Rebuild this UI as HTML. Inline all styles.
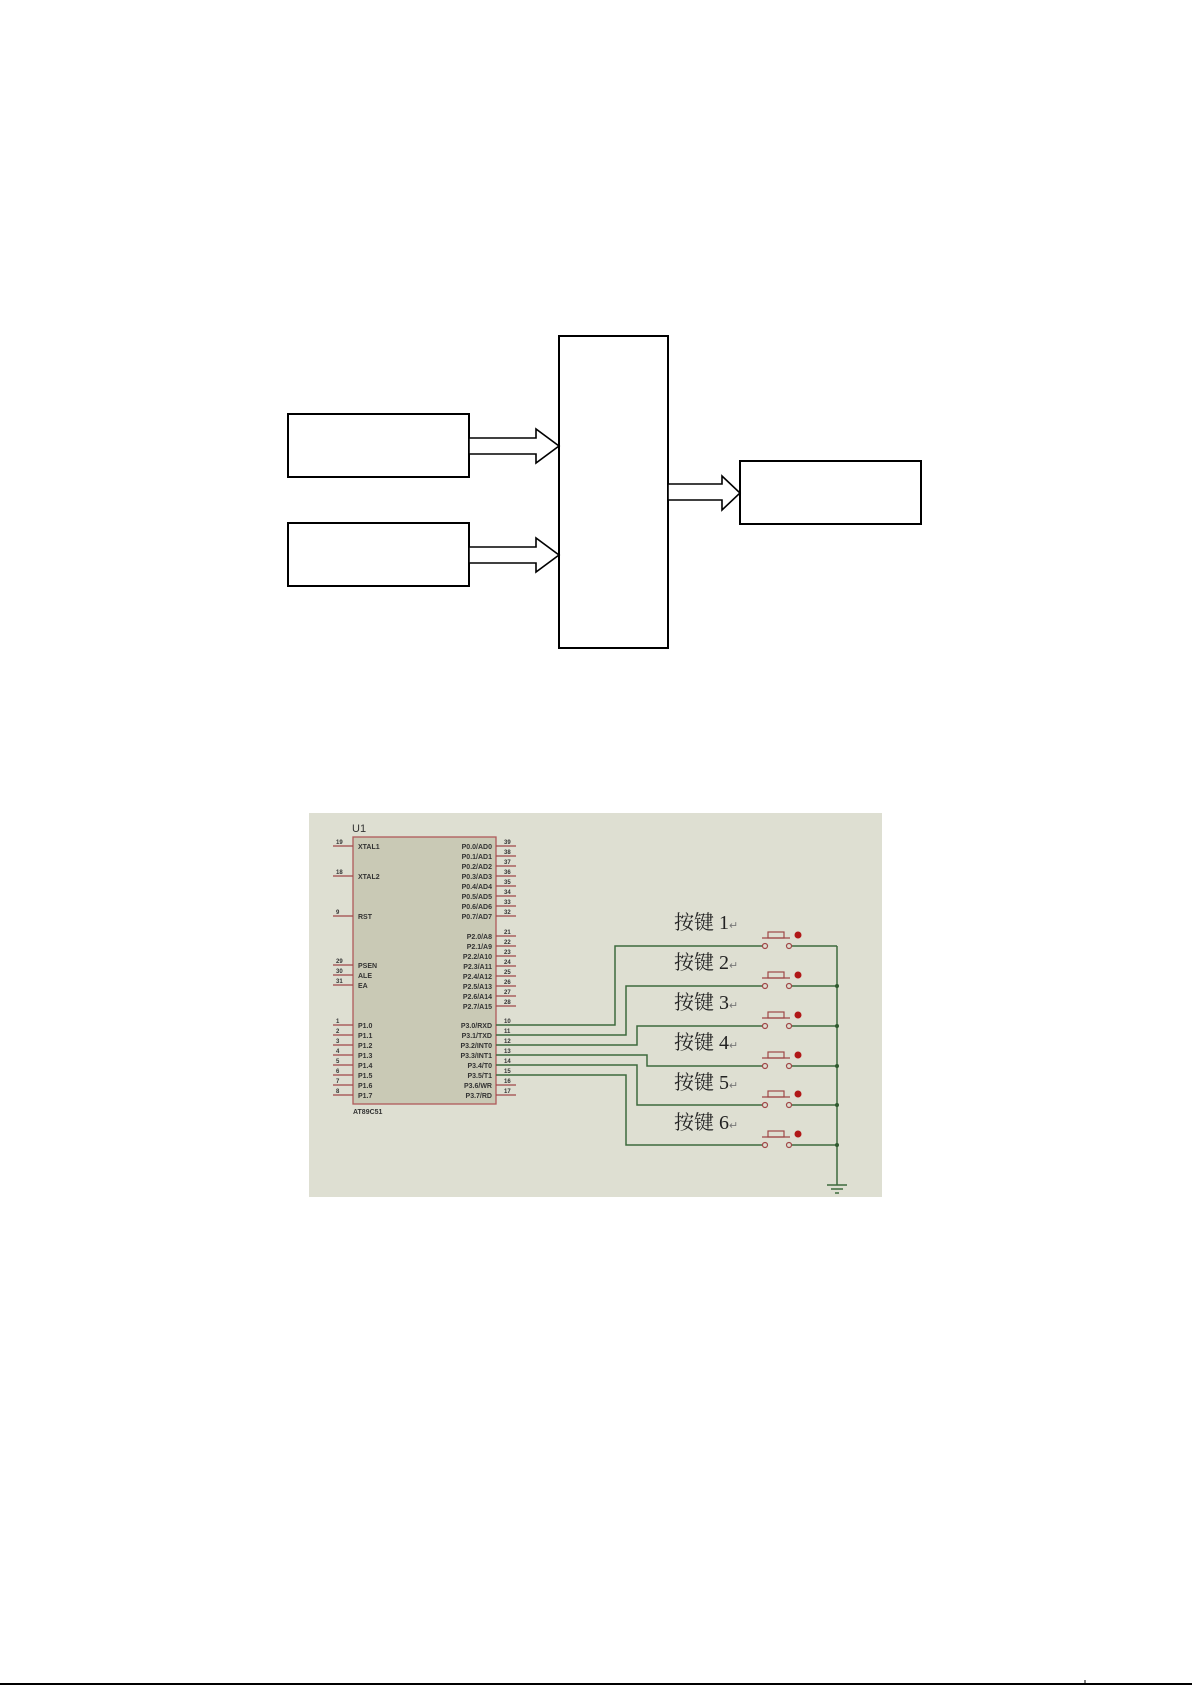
<!DOCTYPE html>
<html><head><meta charset="utf-8"><style>
html,body{margin:0;padding:0;background:#fff;}
svg{display:block;}
</style></head><body>
<svg width="1192" height="1685" viewBox="0 0 1192 1685" xmlns="http://www.w3.org/2000/svg">
<rect width="1192" height="1685" fill="#fff"/>
<g fill="#fff" stroke="#000" stroke-width="2">
<rect x="288" y="414" width="181" height="63"/>
<rect x="288" y="523" width="181" height="63"/>
<rect x="559" y="336" width="109" height="312"/>
<rect x="740" y="461" width="181" height="63"/>
</g>
<g fill="#fff" stroke="#000" stroke-width="1.6">
<polygon points="469,438 536,438 536,429 559,446 536,463 536,454 469,454"/>
<polygon points="469,547 536,547 536,538 559,555 536,572 536,563 469,563"/>
<polygon points="668,484 722,484 722,476 740,493 722,510 722,500 668,500"/>
</g>
<rect x="309" y="813" width="573" height="384" fill="#dedfd2"/>
<text x="352" y="832" font-family="Liberation Sans, sans-serif" font-size="11" fill="#333">U1</text>
<rect x="353" y="837" width="143" height="267" fill="#c9c9b5" stroke="#b05a5a" stroke-width="1.3"/>
<g stroke="#a04848" stroke-width="1.2">
<line x1="333" y1="846" x2="353" y2="846"/><line x1="333" y1="876" x2="353" y2="876"/><line x1="333" y1="916" x2="353" y2="916"/>
<line x1="333" y1="965" x2="353" y2="965"/><line x1="333" y1="975" x2="353" y2="975"/><line x1="333" y1="985" x2="353" y2="985"/>
<line x1="333" y1="1025" x2="353" y2="1025"/><line x1="333" y1="1035" x2="353" y2="1035"/><line x1="333" y1="1045" x2="353" y2="1045"/><line x1="333" y1="1055" x2="353" y2="1055"/>
<line x1="333" y1="1065" x2="353" y2="1065"/><line x1="333" y1="1075" x2="353" y2="1075"/><line x1="333" y1="1085" x2="353" y2="1085"/><line x1="333" y1="1095" x2="353" y2="1095"/>
<line x1="496" y1="846" x2="516" y2="846"/><line x1="496" y1="856" x2="516" y2="856"/><line x1="496" y1="866" x2="516" y2="866"/><line x1="496" y1="876" x2="516" y2="876"/>
<line x1="496" y1="886" x2="516" y2="886"/><line x1="496" y1="896" x2="516" y2="896"/><line x1="496" y1="906" x2="516" y2="906"/><line x1="496" y1="916" x2="516" y2="916"/>
<line x1="496" y1="936" x2="516" y2="936"/><line x1="496" y1="946" x2="516" y2="946"/><line x1="496" y1="956" x2="516" y2="956"/><line x1="496" y1="966" x2="516" y2="966"/>
<line x1="496" y1="976" x2="516" y2="976"/><line x1="496" y1="986" x2="516" y2="986"/><line x1="496" y1="996" x2="516" y2="996"/><line x1="496" y1="1006" x2="516" y2="1006"/>
<line x1="496" y1="1085" x2="516" y2="1085"/><line x1="496" y1="1095" x2="516" y2="1095"/>
</g>
<g font-family="Liberation Sans, sans-serif" font-size="7" font-weight="bold" fill="#333">
<text x="358" y="849">XTAL1</text><text x="358" y="879">XTAL2</text><text x="358" y="919">RST</text>
<text x="358" y="968">PSEN</text><text x="358" y="978">ALE</text><text x="358" y="988">EA</text>
<text x="358" y="1028">P1.0</text><text x="358" y="1038">P1.1</text><text x="358" y="1048">P1.2</text><text x="358" y="1058">P1.3</text>
<text x="358" y="1068">P1.4</text><text x="358" y="1078">P1.5</text><text x="358" y="1088">P1.6</text><text x="358" y="1098">P1.7</text>
<text x="353" y="1114">AT89C51</text>
</g>
<g font-family="Liberation Sans, sans-serif" font-size="7" font-weight="bold" fill="#333" text-anchor="end">
<text x="492" y="849">P0.0/AD0</text><text x="492" y="859">P0.1/AD1</text><text x="492" y="869">P0.2/AD2</text><text x="492" y="879">P0.3/AD3</text>
<text x="492" y="889">P0.4/AD4</text><text x="492" y="899">P0.5/AD5</text><text x="492" y="909">P0.6/AD6</text><text x="492" y="919">P0.7/AD7</text>
<text x="492" y="939">P2.0/A8</text><text x="492" y="949">P2.1/A9</text><text x="492" y="959">P2.2/A10</text><text x="492" y="969">P2.3/A11</text>
<text x="492" y="979">P2.4/A12</text><text x="492" y="989">P2.5/A13</text><text x="492" y="999">P2.6/A14</text><text x="492" y="1009">P2.7/A15</text>
<text x="492" y="1028">P3.0/RXD</text><text x="492" y="1038">P3.1/TXD</text><text x="492" y="1048">P3.2/INT0</text><text x="492" y="1058">P3.3/INT1</text>
<text x="492" y="1068">P3.4/T0</text><text x="492" y="1078">P3.5/T1</text><text x="492" y="1088">P3.6/WR</text><text x="492" y="1098">P3.7/RD</text>
</g>
<g font-family="Liberation Sans, sans-serif" font-size="6" font-weight="bold" fill="#333">
<text x="336" y="844">19</text><text x="336" y="874">18</text><text x="336" y="914">9</text><text x="336" y="963">29</text><text x="336" y="973">30</text><text x="336" y="983">31</text>
<text x="336" y="1023">1</text><text x="336" y="1033">2</text><text x="336" y="1043">3</text><text x="336" y="1053">4</text><text x="336" y="1063">5</text><text x="336" y="1073">6</text><text x="336" y="1083">7</text><text x="336" y="1093">8</text>
<text x="504" y="844">39</text><text x="504" y="854">38</text><text x="504" y="864">37</text><text x="504" y="874">36</text><text x="504" y="884">35</text><text x="504" y="894">34</text><text x="504" y="904">33</text><text x="504" y="914">32</text>
<text x="504" y="934">21</text><text x="504" y="944">22</text><text x="504" y="954">23</text><text x="504" y="964">24</text><text x="504" y="974">25</text><text x="504" y="984">26</text><text x="504" y="994">27</text><text x="504" y="1004">28</text>
<text x="504" y="1023">10</text><text x="504" y="1033">11</text><text x="504" y="1043">12</text><text x="504" y="1053">13</text><text x="504" y="1063">14</text><text x="504" y="1073">15</text><text x="504" y="1083">16</text><text x="504" y="1093">17</text>
</g>
<g fill="none" stroke="#3d6a3d" stroke-width="1.5">
<polyline points="496,1025 615,1025 615,946 763,946"/>
<polyline points="496,1035 626,1035 626,986 763,986"/>
<polyline points="496,1045 637,1045 637,1026 763,1026"/>
<polyline points="496,1055 647,1055 647,1066 763,1066"/>
<polyline points="496,1065 637,1065 637,1105 763,1105"/>
<polyline points="496,1075 626,1075 626,1145 763,1145"/>
<line x1="791" y1="946" x2="837" y2="946"/><line x1="791" y1="986" x2="837" y2="986"/><line x1="791" y1="1026" x2="837" y2="1026"/>
<line x1="791" y1="1066" x2="837" y2="1066"/><line x1="791" y1="1105" x2="837" y2="1105"/><line x1="791" y1="1145" x2="837" y2="1145"/>
<line x1="837" y1="946" x2="837" y2="1185"/>
<line x1="827" y1="1185" x2="847" y2="1185"/><line x1="831" y1="1189" x2="843" y2="1189"/><line x1="835" y1="1193" x2="839" y2="1193"/>
</g>
<g fill="#2f5a2f">
<circle cx="837" cy="986" r="2"/><circle cx="837" cy="1026" r="2"/><circle cx="837" cy="1066" r="2"/><circle cx="837" cy="1105" r="2"/><circle cx="837" cy="1145" r="2"/>
</g>
<g stroke="#a04848" stroke-width="1.2" fill="none">
<circle cx="765" cy="946" r="2.5"/><circle cx="789" cy="946" r="2.5"/><line x1="762" y1="938" x2="790" y2="938"/><rect x="768" y="932" width="16" height="6"/>
<circle cx="765" cy="986" r="2.5"/><circle cx="789" cy="986" r="2.5"/><line x1="762" y1="978" x2="790" y2="978"/><rect x="768" y="972" width="16" height="6"/>
<circle cx="765" cy="1026" r="2.5"/><circle cx="789" cy="1026" r="2.5"/><line x1="762" y1="1018" x2="790" y2="1018"/><rect x="768" y="1012" width="16" height="6"/>
<circle cx="765" cy="1066" r="2.5"/><circle cx="789" cy="1066" r="2.5"/><line x1="762" y1="1058" x2="790" y2="1058"/><rect x="768" y="1052" width="16" height="6"/>
<circle cx="765" cy="1105" r="2.5"/><circle cx="789" cy="1105" r="2.5"/><line x1="762" y1="1097" x2="790" y2="1097"/><rect x="768" y="1091" width="16" height="6"/>
<circle cx="765" cy="1145" r="2.5"/><circle cx="789" cy="1145" r="2.5"/><line x1="762" y1="1137" x2="790" y2="1137"/><rect x="768" y="1131" width="16" height="6"/>
</g>
<g fill="#b01818">
<circle cx="798" cy="935" r="3.5"/><circle cx="798" cy="975" r="3.5"/><circle cx="798" cy="1015" r="3.5"/><circle cx="798" cy="1055" r="3.5"/><circle cx="798" cy="1094" r="3.5"/><circle cx="798" cy="1134" r="3.5"/>
</g>
<g font-family="Liberation Serif, 'Noto Serif CJK SC', serif" font-size="20" fill="#222">
<text x="674" y="929">按键 1<tspan font-size="11" fill="#777">↵</tspan></text>
<text x="674" y="969">按键 2<tspan font-size="11" fill="#777">↵</tspan></text>
<text x="674" y="1009">按键 3<tspan font-size="11" fill="#777">↵</tspan></text>
<text x="674" y="1049">按键 4<tspan font-size="11" fill="#777">↵</tspan></text>
<text x="674" y="1089">按键 5<tspan font-size="11" fill="#777">↵</tspan></text>
<text x="674" y="1129">按键 6<tspan font-size="11" fill="#777">↵</tspan></text>
</g>
<line x1="0" y1="1684" x2="1192" y2="1684" stroke="#000" stroke-width="2"/>
<line x1="1085" y1="1680" x2="1085" y2="1685" stroke="#000" stroke-width="1"/>
</svg>
</body></html>
